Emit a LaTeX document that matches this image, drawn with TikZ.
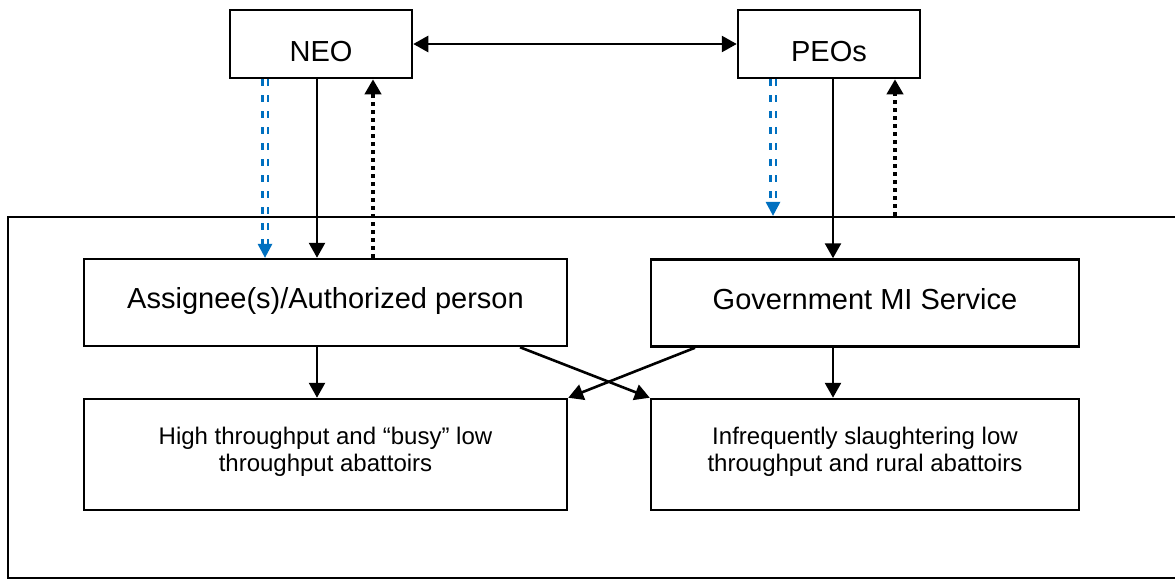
\documentclass[tikz,border=0pt]{standalone}
\usepackage{fontspec}
\setmainfont{Liberation Sans}
\usetikzlibrary{arrows.meta}
\definecolor{arrowblue}{HTML}{0070C0}
\begin{document}
\begin{tikzpicture}[x=1pt,y=-1pt,
  box/.style={draw=black,line width=2.5pt,rectangle,inner sep=0pt},
  bigtext/.style={font=\fontsize{29}{34}\selectfont},
  smalltext/.style={font=\fontsize{24}{27}\selectfont,align=center,inner sep=0pt},
  tip/.style={-{Triangle[width=16pt,length=15pt]}},
  solidarrow/.style={line width=2.6pt,tip},
  dotarrow/.style={line width=4pt,dash pattern=on 4pt off 4pt,tip},
  bluedash/.style={draw=arrowblue,line width=2.4pt,dash pattern=on 7pt off 9pt}
]
\useasboundingbox (0,0) rectangle (1175,579);
% outer frame
\node[box,minimum width=1177pt,minimum height=361pt] (frame) at (596.5,397.5) {};
% top boxes
\node[box,bigtext,minimum width=182pt,minimum height=68pt,text height=34pt,text depth=0pt] (neo) at (321,44) {NEO};
\node[box,bigtext,minimum width=182pt,minimum height=68pt,text height=34pt,text depth=0pt] (peo) at (829,44) {PEOs};
% middle boxes
\node[box,bigtext,minimum width=483pt,minimum height=87pt,text height=20pt,text depth=8pt] (ass) at (325.5,302.5) {Assignee(s)/Authorized person};
\node[box,bigtext,minimum width=428pt,minimum height=87pt,text height=20pt,text depth=8pt] (gov) at (865,303) {Government MI Service};
% bottom boxes
\node[box,minimum width=483pt,minimum height=111pt] (high) at (325.5,454.5) {};
\node[smalltext] (hightext) at (325.5,451.6) {High throughput and “busy” low\\throughput abattoirs};
\node[box,minimum width=428pt,minimum height=111pt] (inf) at (865,454.5) {};
\node[smalltext] (inftext) at (865,451.6) {Infrequently slaughtering low\\throughput and rural abattoirs};

% NEO <-> PEOs
\draw[line width=2.6pt,{Triangle[width=16pt,length=15pt]}-{Triangle[width=16pt,length=15pt]}] (neo.east) -- (peo.west);

% NEO connectors
\coordinate (nb1) at ([xshift=-56pt]neo.south);
\coordinate (nb2) at (nb1 |- ass.north);
\draw[bluedash] ([xshift=-2.7pt]nb1) -- ([xshift=-2.7pt,yshift=12pt]nb2);
\draw[bluedash] ([xshift=2.7pt]nb1) -- ([xshift=2.7pt,yshift=12pt]nb2);
\fill[arrowblue] (nb2) -- ++(-7.5,-14) -- ++(15,0) -- cycle;
\coordinate (ns1) at ([xshift=-4pt]neo.south);
\draw[solidarrow] (ns1) -- (ns1 |- ass.north);
\coordinate (nd1) at ([xshift=52pt]neo.south);
\draw[dotarrow] (nd1 |- ass.north) -- (nd1);

% PEOs connectors
\coordinate (pb1) at ([xshift=-56pt]peo.south);
\coordinate (pb2) at (pb1 |- frame.north);
\draw[bluedash] ([xshift=-2.7pt]pb1) -- ([xshift=-2.7pt,yshift=12pt]pb2);
\draw[bluedash] ([xshift=2.7pt]pb1) -- ([xshift=2.7pt,yshift=12pt]pb2);
\fill[arrowblue] (pb2) -- ++(-7.5,-14) -- ++(15,0) -- cycle;
\coordinate (ps1) at ([xshift=4pt]peo.south);
\draw[solidarrow] (ps1) -- (ps1 |- gov.north);
\coordinate (pd1) at ([xshift=66pt]peo.south);
\draw[dotarrow] (pd1 |- frame.north) -- (pd1);

% middle to bottom
\coordinate (a1) at ([xshift=-8.5pt]ass.south);
\draw[solidarrow] (a1) -- (a1 |- high.north);
\coordinate (g1) at ([xshift=-32pt]gov.south);
\draw[solidarrow] (g1) -- (g1 |- inf.north);
\coordinate (a2) at ([xshift=194.5pt]ass.south);
\draw[solidarrow] (a2) -- (inf.north west);
\coordinate (g2) at ([xshift=-170pt]gov.south);
\draw[solidarrow] (g2) -- (high.north east);
\end{tikzpicture}
\end{document}
